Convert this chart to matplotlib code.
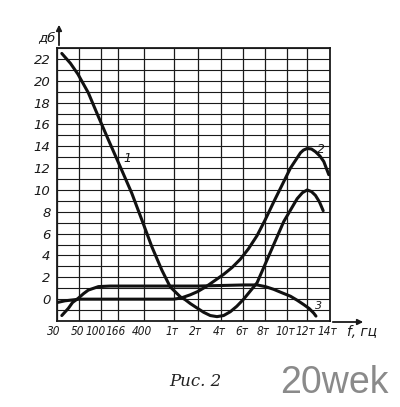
import numpy as np
import matplotlib
matplotlib.use("Agg")
import matplotlib.pyplot as plt
from matplotlib.transforms import ScaledTranslation

# frequency axis: tick frequencies (Hz) and their labels
TICK_HZ = [30, 50, 100, 166, 400, 1000, 2000, 4000, 6000, 8000, 10000, 12000, 14000]
TICK_LBL = ["30", "50", "100", "166", "400", "1т", "2т", "4т", "6т", "8т",
            "10т", "12т", "14т"]
Y_TICKS = list(range(0, 23, 2))

# curve 1
F1 = [34, 42, 49, 71, 94, 129, 203, 291, 380, 556, 759, 928, 1271, 1479,
      1688, 2505, 3088, 3670, 4249, 4845, 5422, 6027, 7245, 8465, 9702,
      10996, 11513, 11971, 12364, 12727, 13090, 13427]
Y1 = [22.5, 21.6, 20.6, 18.9, 16.7, 14.6, 11.8, 9.7, 7.25, 4.8, 2.66, 1.13,
      0.22, -0.05, -0.4, -1.2, -1.5, -1.6, -1.5, -1.15, -0.65, 0.0, 1.5,
      4.3, 7.1, 9.2, 9.75, 10.0, 9.85, 9.5, 8.9, 8.1]
# curve 2
F2 = [30, 37, 46, 50, 100, 166, 400, 1000, 1300, 1690, 2000, 2800, 4249,
      5000, 5733, 6455, 7245, 8000, 8772, 10342, 11318, 11610, 11971,
      12364, 12727, 13136, 13482, 13936]
Y2 = [-0.3, -0.15, -0.05, 0.0, 0.0, 0.0, 0.0, 0.0, 0.1, 0.4, 0.7, 1.2, 2.27,
      2.9, 3.66, 4.6, 5.82, 7.3, 8.9, 12.0, 13.4, 13.65, 13.8, 13.75, 13.5,
      13.1, 12.6, 11.4]
# curve 3
F3 = [34, 40, 44, 49, 60, 71, 94, 136, 400, 1000, 2000, 4000, 6000, 7245,
      8000, 8772, 9500, 10342, 11000, 11640, 12150, 12570, 12770]
Y3 = [-1.5, -0.85, -0.3, 0.06, 0.5, 0.83, 1.15, 1.2, 1.2, 1.2, 1.2, 1.25,
      1.3, 1.3, 1.15, 0.9, 0.6, 0.27, -0.1, -0.5, -0.85, -1.28, -1.55]

# layout: horizontal position of each tick (non-uniform scale of the original)
TICK_POS = [0, 21.5, 43.5, 60, 86.5, 116, 140, 163, 185.5, 207.5, 229, 249.5, 271.5]


def fpos(f):
    return np.interp(f, TICK_HZ, TICK_POS)


plt.rcParams["font.family"] = ["DejaVu Sans"]
fig = plt.figure(figsize=(4.0, 4.07), dpi=100)
ax = fig.add_axes([57.5 / 400, 1 - 321 / 407, 272 / 400, 273 / 407])
ax.set_xlim(0, 271.5)
ax.set_ylim(-2, 23)

ink = "#1a1a1a"
for p in TICK_POS:
    ax.axvline(p, color=ink, lw=0.9, zorder=1)
for y in range(-2, 24):
    ax.axhline(y, color=ink, lw=0.8, zorder=1)

for F, Y in ((F1, Y1), (F2, Y2), (F3, Y3)):
    ax.plot(fpos(F), Y, color="#111111", lw=2.2, solid_capstyle="round",
            solid_joinstyle="round", zorder=3)

ax.set_xticks(TICK_POS)
ax.set_xticklabels(TICK_LBL, fontstyle="oblique", fontsize=8.5,
                   fontstretch="condensed")
ax.set_yticks(Y_TICKS)
ax.set_yticklabels([str(v) for v in Y_TICKS], fontstyle="oblique",
                   fontsize=9.5)
ax.tick_params(length=0, colors=ink)
ax.tick_params(axis="x", pad=3)
ax.tick_params(axis="y", pad=5)
for i, lab in enumerate(ax.get_xticklabels()):
    dx = -5 if TICK_LBL[i] == "100" else (-4 if i == 0 else -2)
    lab.set_transform(lab.get_transform() +
                      ScaledTranslation(dx / 100, 0, fig.dpi_scale_trans))
for sp in ax.spines.values():
    sp.set_color(ink)
    sp.set_linewidth(1.3)

# curve numbers
ax.text(fpos(215), 12.9, "1", fontsize=9, fontstyle="oblique", color=ink,
        ha="left", va="center")
ax.text(fpos(13200), 13.7, "2", fontsize=9, fontstyle="oblique", color=ink,
        ha="center", va="center")
ax.text(fpos(13000), -0.6, "3", fontsize=8, fontstyle="oblique", color=ink,
        ha="center", va="center")

# axis arrows and units
ax.annotate("", xy=(59 / 400, 1 - 22 / 407), xytext=(59 / 400, 1 - 48 / 407),
            xycoords="figure fraction",
            arrowprops=dict(arrowstyle="-|>", color=ink, lw=1.3,
                            mutation_scale=8))
ax.annotate("", xy=(366 / 400, 1 - 322 / 407), xytext=(330 / 400, 1 - 322 / 407),
            xycoords="figure fraction",
            arrowprops=dict(arrowstyle="-|>", color=ink, lw=1.3,
                            mutation_scale=8))
fig.text(47 / 400, 1 - 38 / 407, "дб", fontsize=9.5, fontstyle="oblique",
         ha="center", va="center", color=ink)
fig.text(362 / 400, 1 - 332 / 407, "f, гц", fontsize=10, fontstyle="oblique",
         ha="center", va="center", color=ink)

fig.text(195 / 400, 1 - 382 / 407, "Рис. 2", fontsize=12, fontstyle="italic",
         family=["DejaVu Serif"], ha="center", va="center",
         color="#222222")
fig.text(334 / 400, 1 - 383 / 407, "20wek", fontsize=27, color="#8a8a8a",
         family=["Liberation Sans", "DejaVu Sans"], ha="center", va="center")

fig.savefig("out.png", dpi=100)
